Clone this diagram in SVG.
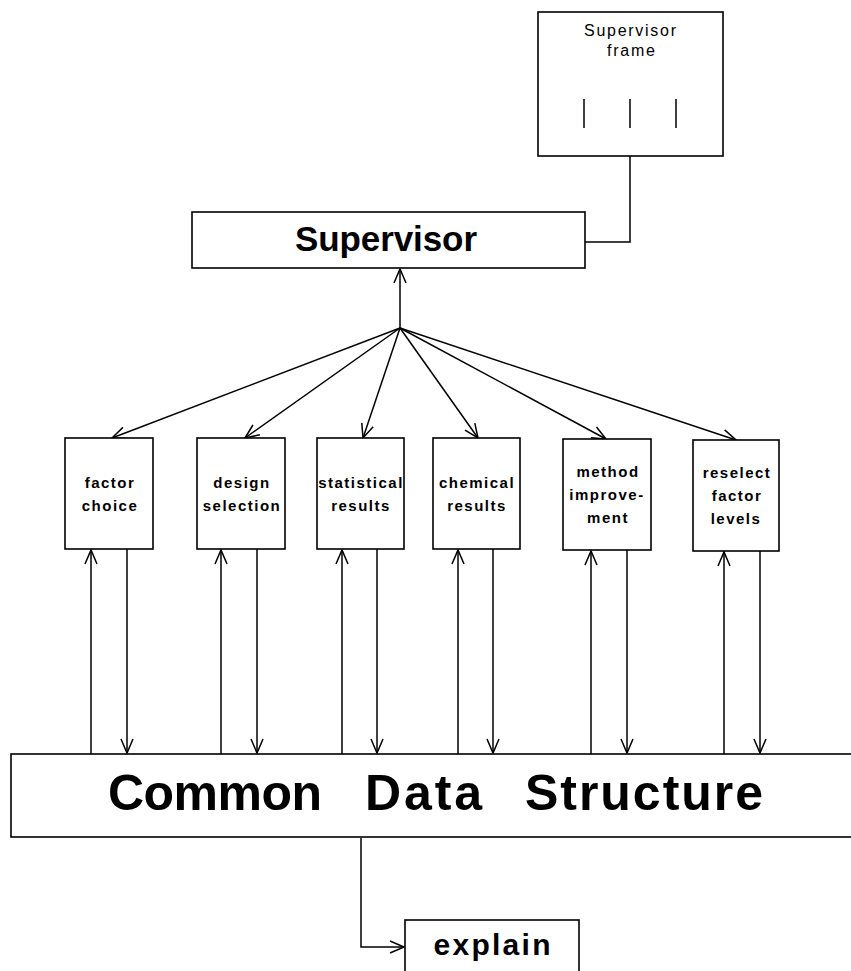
<svg xmlns="http://www.w3.org/2000/svg" width="851" height="971" viewBox="0 0 851 971">
<style>
.box{fill:#fff;stroke:#000;stroke-width:1.6}
.ln{fill:none;stroke:#000;stroke-width:1.5}
.t{font-family:"Liberation Sans",Arial,sans-serif;fill:#000;text-anchor:middle}
.sm{font-size:15px;font-weight:bold;letter-spacing:1.5px}
</style>
<defs>
<marker id="ah" markerUnits="userSpaceOnUse" viewBox="-16 -8 18 16" refX="0" refY="0" markerWidth="18" markerHeight="16" orient="auto">
<path d="M-14,-6 L0,0 L-14,6" fill="none" stroke="#000" stroke-width="1.5"/>
</marker>
</defs>
<rect width="851" height="971" fill="#fff"/>
<g id="connectors">
<polyline class="ln" points="630,156 630,242 585,242"/>
<line class="ln" x1="400" y1="328" x2="400" y2="269" marker-end="url(#ah)"/>
<line class="ln" x1="400" y1="328" x2="112" y2="438" marker-end="url(#ah)"/>
<line class="ln" x1="400" y1="328" x2="245" y2="438" marker-end="url(#ah)"/>
<line class="ln" x1="400" y1="328" x2="363" y2="438" marker-end="url(#ah)"/>
<line class="ln" x1="400" y1="328" x2="478" y2="438" marker-end="url(#ah)"/>
<line class="ln" x1="400" y1="328" x2="606" y2="439" marker-end="url(#ah)"/>
<line class="ln" x1="400" y1="328" x2="736" y2="440" marker-end="url(#ah)"/>
<line class="ln" x1="91" y1="754" x2="91" y2="550" marker-end="url(#ah)"/>
<line class="ln" x1="127" y1="549" x2="127" y2="753" marker-end="url(#ah)"/>
<line class="ln" x1="221" y1="754" x2="221" y2="550" marker-end="url(#ah)"/>
<line class="ln" x1="257" y1="549" x2="257" y2="753" marker-end="url(#ah)"/>
<line class="ln" x1="342" y1="754" x2="342" y2="550" marker-end="url(#ah)"/>
<line class="ln" x1="377" y1="549" x2="377" y2="753" marker-end="url(#ah)"/>
<line class="ln" x1="458" y1="754" x2="458" y2="550" marker-end="url(#ah)"/>
<line class="ln" x1="493" y1="549" x2="493" y2="753" marker-end="url(#ah)"/>
<line class="ln" x1="591" y1="754" x2="591" y2="551" marker-end="url(#ah)"/>
<line class="ln" x1="627" y1="550" x2="627" y2="753" marker-end="url(#ah)"/>
<line class="ln" x1="724" y1="754" x2="724" y2="552" marker-end="url(#ah)"/>
<line class="ln" x1="760" y1="551" x2="760" y2="753" marker-end="url(#ah)"/>
<polyline class="ln" points="361,838 361,947 404,947" marker-end="url(#ah)"/>
</g>
<g id="supervisor-frame">
<rect class="box" x="538" y="12" width="185" height="144"/>
<text class="t" x="630" y="36" font-size="16" textLength="92" lengthAdjust="spacing">Supervisor</text>
<text class="t" x="631" y="56" font-size="16" textLength="48" lengthAdjust="spacing">frame</text>
<line class="ln" x1="584" y1="99" x2="584" y2="128"/>
<line class="ln" x1="630" y1="99" x2="630" y2="128"/>
<line class="ln" x1="676" y1="99" x2="676" y2="128"/>
</g>
<g id="supervisor">
<rect class="box" x="192" y="212" width="393" height="56"/>
<text class="t" x="386" y="251" font-size="35" font-weight="bold" textLength="182" lengthAdjust="spacing">Supervisor</text>
</g>
<g id="factor-choice">
<rect class="box" x="65" y="438" width="88" height="111"/>
<text class="t sm" x="110" y="488">factor</text>
<text class="t sm" x="110" y="511">choice</text>
</g>
<g id="design-selection">
<rect class="box" x="197" y="438" width="88" height="111"/>
<text class="t sm" x="242" y="488">design</text>
<text class="t sm" x="242" y="511">selection</text>
</g>
<g id="statistical-results">
<rect class="box" x="317" y="438" width="87" height="111"/>
<text class="t sm" x="361" y="488">statistical</text>
<text class="t sm" x="361" y="511">results</text>
</g>
<g id="chemical-results">
<rect class="box" x="433" y="438" width="87" height="111"/>
<text class="t sm" x="477" y="488">chemical</text>
<text class="t sm" x="477" y="511">results</text>
</g>
<g id="method-improvement">
<rect class="box" x="563" y="439" width="88" height="111"/>
<text class="t sm" x="608" y="477">method</text>
<text class="t sm" x="607" y="500">improve-</text>
<text class="t sm" x="608" y="523">ment</text>
</g>
<g id="reselect-factor-levels">
<rect class="box" x="693" y="440" width="86" height="111"/>
<text class="t sm" x="737" y="478">reselect</text>
<text class="t sm" x="737" y="501">factor</text>
<text class="t sm" x="736" y="524">levels</text>
</g>
<g id="common-data-structure">
<rect class="box" x="11" y="754" width="850" height="83"/>
<text x="108" y="810" font-family="Liberation Sans, Arial, sans-serif" font-size="50" font-weight="bold" textLength="214" lengthAdjust="spacing">Common</text>
<text x="365" y="810" font-family="Liberation Sans, Arial, sans-serif" font-size="50" font-weight="bold" textLength="117" lengthAdjust="spacing">Data</text>
<text x="525" y="810" font-family="Liberation Sans, Arial, sans-serif" font-size="50" font-weight="bold" textLength="238" lengthAdjust="spacing">Structure</text>
</g>
<g id="explain">
<rect class="box" x="405" y="920" width="174" height="60"/>
<text class="t" x="492" y="955" font-size="30" font-weight="bold" textLength="117" lengthAdjust="spacing">explain</text>
</g>
</svg>
